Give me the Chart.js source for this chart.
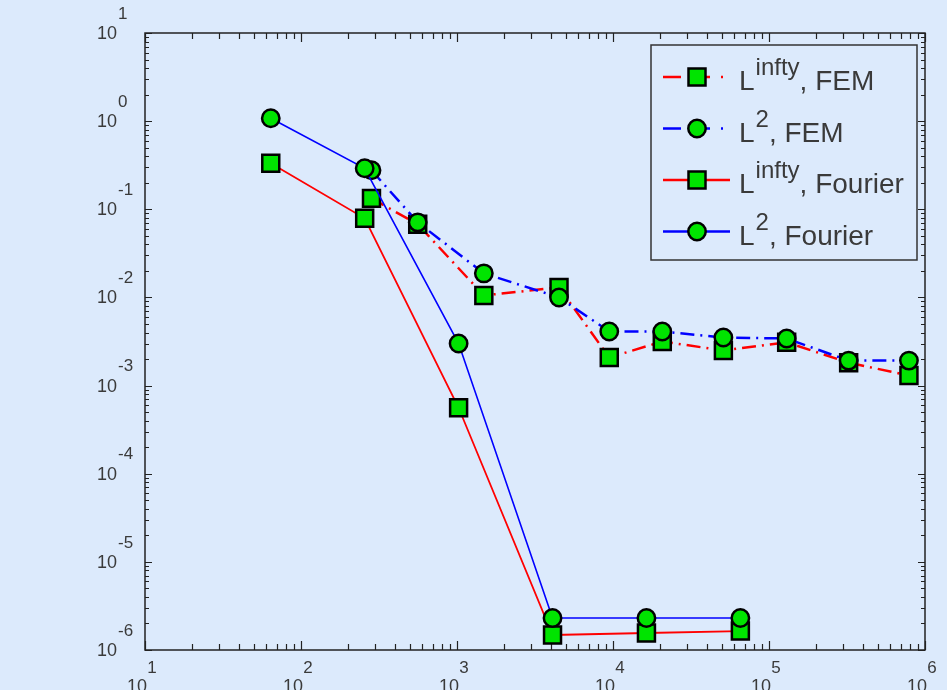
<!DOCTYPE html>
<html lang="en">
<head>
  <meta charset="UTF-8">
  <title>Error convergence</title>
  <script src="https://cdn.jsdelivr.net/npm/chart.js"></script>
  <style>
    html, body { margin: 0; padding: 0; background: #dceafc; overflow: hidden; }
    canvas { display: block; }
  </style>
</head>
<body>
<canvas id="errChart" width="947" height="690"></canvas>

<script>
  // Fourier runs
  const fourierN = [64, 256, 1024, 4096, 16384, 65536];
  const fourierLinf = [0.333, 0.079, 5.6e-4, 1.48e-6, 1.56e-6, 1.64e-6];
  const fourierL2 = [1.08, 0.292, 3.0e-3, 2.31e-6, 2.31e-6, 2.31e-6];

  // FEM runs
  const femN = [283, 560, 1486, 4508, 9464, 20700, 51000, 129800, 324000, 789000];
  const femLinf = [0.133, 0.0676, 0.01054, 0.0130, 2.08e-3, 3.16e-3, 2.50e-3, 3.10e-3, 1.82e-3, 1.30e-3];
  const femL2 = [0.277, 0.0711, 0.01875, 0.0100, 4.11e-3, 4.11e-3, 3.51e-3, 3.42e-3, 1.92e-3, 1.92e-3];

  const xDecades = [1, 2, 3, 4, 5, 6];
  const yDecades = [1, 0, -1, -2, -3, -4, -5, -6];

  const legendItems = [
    { base: 'L', sup: 'infty', rest: ', FEM', color: 'red', dash: true, shape: 'rect' },
    { base: 'L', sup: '2', rest: ', FEM', color: 'blue', dash: true, shape: 'circle' },
    { base: 'L', sup: 'infty', rest: ', Fourier', color: 'red', dash: false, shape: 'rect' },
    { base: 'L', sup: '2', rest: ', Fourier', color: 'blue', dash: false, shape: 'circle' }
  ];

  const GREEN = '#00e400';
  const DASHDOT = [14, 6, 2, 6];
  const TXT = '#3a3a3a';
  const FONT = '"Liberation Sans", Arial, sans-serif';

  const pts = (xs, ys) => xs.map((x, i) => ({ x, y: ys[i] }));

  function drawMarker(ctx, shape, x, y) {
    ctx.save();
    ctx.setLineDash([]);
    ctx.fillStyle = GREEN;
    ctx.strokeStyle = '#000';
    ctx.lineWidth = 2.5;
    ctx.beginPath();
    if (shape === 'rect') ctx.rect(x - 8.5, y - 8.5, 17, 17);
    else ctx.arc(x, y, 8.7, 0, Math.PI * 2);
    ctx.fill();
    ctx.stroke();
    ctx.restore();
  }

  const framePlugin = {
    id: 'frame',
    beforeDatasetsDraw(chart) {
      const { ctx, chartArea: a, scales } = chart;
      const xs = scales.x, ys = scales.y;
      ctx.save();
      ctx.strokeStyle = '#222';
      ctx.lineWidth = 1.5;
      ctx.strokeRect(a.left, a.top, a.right - a.left, a.bottom - a.top);
      ctx.lineWidth = 1.2;
      ctx.beginPath();
      // x ticks (bottom and top)
      for (let e = 1; e <= 6; e++) {
        for (let m = 1; m <= 9; m++) {
          if (e === 6 && m > 1) break;
          const px = Math.round(xs.getPixelForValue(m * Math.pow(10, e))) + 0.5;
          const len = m === 1 ? 9 : 6;
          ctx.moveTo(px, a.bottom); ctx.lineTo(px, a.bottom - len);
          ctx.moveTo(px, a.top); ctx.lineTo(px, a.top + len);
        }
      }
      // y ticks (left and right)
      for (let e = -6; e <= 1; e++) {
        for (let m = 1; m <= 9; m++) {
          if (e === 1 && m > 1) break;
          const py = Math.round(ys.getPixelForValue(m * Math.pow(10, e))) + 0.5;
          const len = m === 1 ? 7 : 4;
          ctx.moveTo(a.left, py); ctx.lineTo(a.left + len, py);
          ctx.moveTo(a.right, py); ctx.lineTo(a.right - len, py);
        }
      }
      ctx.stroke();

      // tick labels: 10 with raised exponent
      ctx.fillStyle = TXT;
      ctx.textBaseline = 'middle';
      yDecades.forEach(e => {
        const py = ys.getPixelForValue(Math.pow(10, e));
        ctx.font = '18px ' + FONT;
        ctx.textAlign = 'right';
        ctx.fillText('10', a.left - 28, py + 1);
        ctx.font = '17px ' + FONT;
        ctx.textAlign = 'left';
        ctx.fillText(String(e), a.left - 27, py - 19);
      });
      xDecades.forEach(e => {
        const px = xs.getPixelForValue(Math.pow(10, e));
        ctx.font = '17px ' + FONT;
        ctx.textAlign = 'center';
        ctx.fillText(String(e), px + 7, a.bottom + 18);
        ctx.font = '18px ' + FONT;
        ctx.fillText('10', px - 8, a.bottom + 37);
      });
      ctx.restore();
    },
    afterDraw(chart) {
      const { ctx, chartArea: a } = chart;
      const bx = 651, by = 45, bw = a.right - 8 - 651, bh = 215;
      ctx.save();
      ctx.fillStyle = '#dceafc';
      ctx.fillRect(bx, by, bw, bh);
      ctx.strokeStyle = '#333';
      ctx.lineWidth = 1.5;
      ctx.strokeRect(bx, by, bw, bh);
      legendItems.forEach((it, i) => {
        const y = 77 + i * 51.5;
        ctx.strokeStyle = it.color;
        ctx.lineWidth = 2.5;
        ctx.beginPath();
        if (it.dash) {
          ctx.moveTo(663, y); ctx.lineTo(681, y);
          ctx.moveTo(690, y); ctx.lineTo(710, y);
          ctx.moveTo(721, y); ctx.lineTo(723, y);
        } else {
          ctx.moveTo(663, y); ctx.lineTo(730, y);
        }
        ctx.stroke();
        drawMarker(ctx, it.shape, 697, y);
        ctx.fillStyle = TXT;
        ctx.textAlign = 'left';
        ctx.textBaseline = 'alphabetic';
        let x = 739;
        ctx.font = '28px ' + FONT;
        ctx.fillText(it.base, x, y + 13);
        x += ctx.measureText(it.base).width + 1;
        ctx.font = '24px ' + FONT;
        ctx.fillText(it.sup, x, y - 2);
        x += ctx.measureText(it.sup).width;
        ctx.font = '28px ' + FONT;
        ctx.fillText(it.rest, x, y + 13);
      });
      ctx.restore();
    }
  };

  const common = { showLine: true, pointBackgroundColor: GREEN, pointBorderColor: '#000',
                   pointBorderWidth: 2.5, pointHoverRadius: 9 };
  const hiddenAxis = {
    ticks: { display: false },
    grid: { display: false, drawTicks: false, tickLength: 0 },
    border: { display: false }
  };

  new Chart(document.getElementById('errChart'), {
    type: 'scatter',
    data: {
      datasets: [
        Object.assign({}, common, {
          label: 'L2, Fourier', data: pts(fourierN, fourierL2), order: 0,
          borderColor: 'blue', borderWidth: 1.6, pointStyle: 'circle', pointRadius: 8.7
        }),
        Object.assign({}, common, {
          label: 'Linfty, Fourier', data: pts(fourierN, fourierLinf), order: 1,
          borderColor: 'red', borderWidth: 1.8, pointStyle: 'rect', pointRadius: 12
        }),
        Object.assign({}, common, {
          label: 'L2, FEM', data: pts(femN, femL2), order: 2,
          borderColor: 'blue', borderWidth: 2.5, borderDash: DASHDOT,
          pointStyle: 'circle', pointRadius: 8.7
        }),
        Object.assign({}, common, {
          label: 'Linfty, FEM', data: pts(femN, femLinf), order: 3,
          borderColor: 'red', borderWidth: 2.5, borderDash: DASHDOT,
          pointStyle: 'rect', pointRadius: 12
        })
      ]
    },
    options: {
      responsive: false,
      animation: false,
      layout: { padding: { left: 145, top: 33, right: 22, bottom: 40 } },
      plugins: { legend: { display: false }, tooltip: { enabled: false } },
      scales: {
        x: Object.assign({ type: 'logarithmic', min: 10, max: 1e6 }, hiddenAxis),
        y: Object.assign({ type: 'logarithmic', min: 1e-6, max: 10 }, hiddenAxis)
      }
    },
    plugins: [framePlugin]
  });
</script>
</body>
</html>
